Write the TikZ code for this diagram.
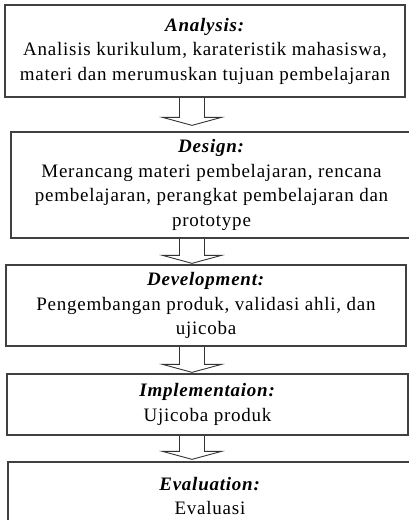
\documentclass[tikz,border=0pt]{standalone}
\usepackage{fontspec}
\setmainfont{Liberation Serif}[LetterSpace=4]
\usepackage{tikz}
\usetikzlibrary{calc}

\begin{document}
\begin{tikzpicture}[x=1pt, y=-1pt,
    stagebox/.style={draw=black!75, line width=1.3pt, align=center,
      font=\fontsize{19}{24.5}\selectfont, inner sep=0pt},
    fatarrow/.style={draw=black!80, line width=0.9pt}]
  \useasboundingbox (0,0) rectangle (409,520);

  % Stages of the model, top to bottom
  \node[stagebox, minimum width=400, minimum height=92] (analysis) at (205,51)
    {\textbf{\textit{Analysis:}}\\Analisis kurikulum, karateristik mahasiswa,\\materi dan merumuskan tujuan pembelajaran};
  \node[stagebox, minimum width=401, minimum height=106] (design) at (211.5,185)
    {\textbf{\textit{Design:}}\\Merancang materi pembelajaran, rencana\\pembelajaran, perangkat pembelajaran dan\\prototype};
  \node[stagebox, minimum width=400, minimum height=81] (development) at (206,305.5)
    {\textbf{\textit{Development:}}\\Pengembangan produk, validasi ahli, dan\\ujicoba};
  \node[stagebox, minimum width=401, minimum height=61] (implementation) at (207.5,404.5)
    {\textbf{\textit{Implementaion:}}\\Ujicoba produk};
  \node[stagebox, minimum width=404, minimum height=68] (evaluation) at (210,496)
    {\textbf{\textit{Evaluation:}}\\Evaluasi};

  % x position of the hollow arrows
  \coordinate (ax) at (192,0);

  \def\blockArrow#1#2#3{
    \draw[fatarrow]
      ($(#1.south -| ax)+(-12.5,0)$) -- ($(#2.north -| ax)+(-12.5,-#3-8)$)
      -- ++(-17,0) -- ($(#2.north -| ax)+(0,-#3)$)
      -- ($(#2.north -| ax)+(29.5,-#3-8)$) -- ++(-17,0)
      -- ($(#1.south -| ax)+(12.5,0)$);
  }

  % Arrows between the stages
  \blockArrow{analysis}{design}{6}
  \blockArrow{design}{development}{1}
  \blockArrow{development}{implementation}{1}
  \blockArrow{implementation}{evaluation}{2}
\end{tikzpicture}
\end{document}
